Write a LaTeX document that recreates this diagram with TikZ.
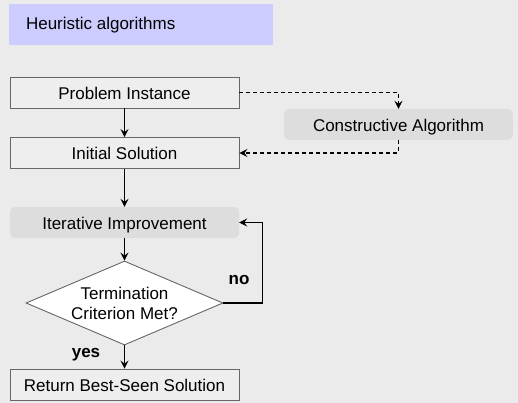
\documentclass[tikz,border=0pt]{standalone}
\usepackage{fontspec}
\setmainfont{Liberation Sans}
\usetikzlibrary{shapes.geometric,arrows.meta}

\begin{document}
\begin{tikzpicture}[x=1pt, y=-1pt]

  % ---- sizing knobs ----
  \pgfmathsetlengthmacro{\HAboxw}{229pt}   % box width
  \pgfmathsetlengthmacro{\HAboxh}{31pt}    % box height
  \pgfmathsetlengthmacro{\HAdiaw}{197pt}   % decision width
  \pgfmathsetlengthmacro{\HAdiah}{84pt}    % decision height

  \definecolor{HABg}{HTML}{EBEBEB}
  \definecolor{HABox}{HTML}{EEEEEE}
  \definecolor{HASoft}{HTML}{DDDDDD}
  \definecolor{HATitle}{HTML}{CCCCFF}
  \definecolor{HALine}{HTML}{666666}

  \tikzset{
    txt/.style={font=\fontsize{17}{20}\selectfont},
    plainbox/.style={txt, draw=HALine, line width=0.9pt, fill=HABox,
      minimum width=\HAboxw, minimum height=\HAboxh, inner sep=0pt,
      text height=14pt, text depth=0pt},
    softbox/.style={txt, fill=HASoft, rounded corners=5pt,
      minimum width=\HAboxw, minimum height=\HAboxh, inner sep=0pt,
      text height=14pt, text depth=0pt},
    decision/.style={txt, diamond, draw=HALine, line width=0.9pt, fill=white,
      minimum width=\HAdiaw, minimum height=\HAdiah, inner sep=0pt,
      aspect=2.35, align=center},
    flow/.style={line width=1.1pt, -{Stealth[length=8pt, width=8pt, inset=3pt]}},
    dflow/.style={flow, line width=1.2pt, dash pattern=on 4pt off 3pt}
  }

  % ---- background ----
  \fill[HABg] (0,0) rectangle (518,403);
  \useasboundingbox (0,0) rectangle (518,403);

  % ---- title ----
  \fill[HATitle] (9,4) rectangle (273,45);
  \node[txt, anchor=west] (title) at (22.5,25) {Heuristic algorithms};

  % ---- boxes ----
  \node[plainbox] (prob) at (124.5,92.5) {Problem Instance};
  \node[plainbox] (init) at (124.5,153) {Initial Solution};
  \node[softbox] (constr) at (398.5,124.5) {Constructive Algorithm};
  \node[softbox] (iter) at (124.5,222.5) {Iterative Improvement};
  \node[decision] (term) at (124.5,303) {Termination\\Criterion Met?};
  \node[plainbox] (ret) at (124.5,384.5) {Return Best-Seen Solution};

  % ---- connectors ----
  \draw[flow] (prob) -- (init);
  \draw[flow] (init) -- (iter);
  \draw[flow] (iter) -- (term);
  \draw[flow] (term) -- (ret);
  \draw[flow] (term.east) -- ++(39,0) |- (iter.east);
  \draw[dflow] (prob.east) -| (constr.north);
  \draw[dflow] (constr.south) |- (init.east);

  % ---- labels ----
  \node[txt, font=\fontsize{17}{20}\selectfont\bfseries] (yes) at (86,355) {yes};
  \node[txt, font=\fontsize{17}{20}\selectfont\bfseries] (no) at (239,280) {no};

\end{tikzpicture}
\end{document}
